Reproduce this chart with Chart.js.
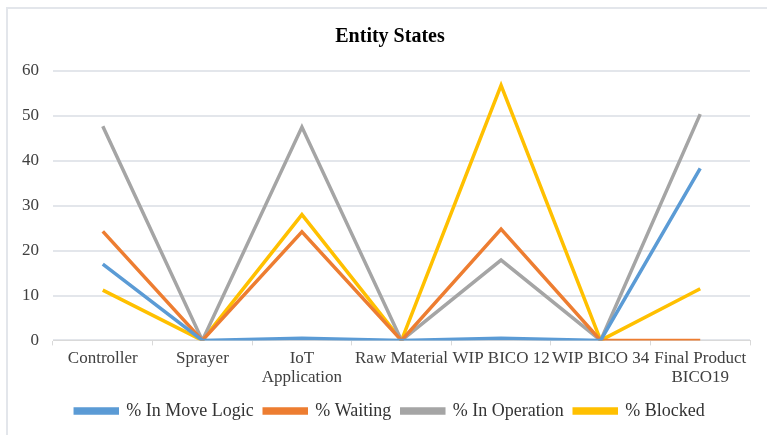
<!DOCTYPE html>
<html>
<head>
<meta charset="utf-8">
<script src="https://cdn.jsdelivr.net/npm/chart.js@4/dist/chart.umd.min.js"></script>
<style>
  html, body { margin: 0; padding: 0; background: #fff; }
  #wrap { position: relative; width: 767px; height: 437px; }
  #frame { position: absolute; left: 6px; top: 7px; right: 0; bottom: 2px;
           border-top: 2px solid #e3e6eb; border-left: 2px solid #e3e6eb; }
  canvas { position: absolute; left: 0; top: 0; }
</style>
</head>
<body>
<div id="wrap">
  <div id="frame"></div>
  <canvas id="grafico" width="767" height="437"></canvas>
</div>
<script>
// categorias del eje x
const categories = ['Controller', 'Sprayer', ['IoT', 'Application'], 'Raw Material', 'WIP BICO 12', 'WIP BICO 34', ['Final Product', 'BICO19']]
// valores (%)
const moveLogic = [17.0, 0, 0.5, 0, 0.5, 0, 38.3]
const waiting = [24.3, 0, 24.2, 0, 24.8, 0, 0]
const inOperation = [47.7, 0, 47.5, 0, 17.9, 0, 50.4]
const blocked = [11.2, 0, 28.0, 0, 56.8, 0, 11.5]
const yTicks = [0, 10, 20, 30, 40, 50, 60]

const serif = '"Liberation Serif", "Times New Roman", serif'

function serie(label, data, color) {
  return {
    label: label,
    data: data,
    borderColor: color,
    backgroundColor: color,
    borderWidth: 3.5,
    pointRadius: 0,
    tension: 0
  }
}

// titulo y leyenda un poco a la derecha, como en el original
const desplazar = {
  id: 'desplazar',
  afterLayout(chart) {
    const dx = 11
    chart.titleBlock.left += dx
    chart.titleBlock.right += dx
    chart.legend.left += dx
    chart.legend.right += dx
  }
}

var ctx = document.getElementById('grafico').getContext('2d')
var chart = new Chart(ctx, {
  type: 'line',
  data: {
    labels: categories,
    datasets: [
      serie('% In Move Logic', moveLogic, '#5B9BD5'),
      serie('% Waiting', waiting, '#ED7D31'),
      serie('% In Operation', inOperation, '#A5A5A5'),
      serie('% Blocked', blocked, '#FFC000')
    ]
  },
  plugins: [desplazar],
  options: {
    responsive: false,
    animation: false,
    layout: { padding: { left: 8, right: 17, top: 16, bottom: 7 } },
    plugins: {
      title: {
        display: true,
        text: 'Entity States',
        color: '#000',
        font: { family: serif, size: 20, weight: 'bold' },
        padding: { top: 9, bottom: 22 }
      },
      legend: {
        position: 'bottom',
        labels: {
          color: '#333',
          font: { family: serif, size: 18 },
          boxWidth: 42,
          boxHeight: 4,
          padding: 10.5
        }
      },
      tooltip: { enabled: false }
    },
    scales: {
      x: {
        offset: true,
        grid: { offset: true, drawOnChartArea: false, drawTicks: true, tickLength: 5, color: '#d9d9d9' },
        border: { color: '#d9d9d9', width: 1 },
        ticks: { color: '#404040', font: { family: serif, size: 17, lineHeight: 1.12 }, maxRotation: 0, autoSkip: false, padding: 4 }
      },
      y: {
        min: 0,
        max: 60,
        afterBuildTicks: (axis) => { axis.ticks = yTicks.map(v => ({ value: v })) },
        grid: { color: '#e3e6eb', lineWidth: 2, drawTicks: false },
        border: { display: false },
        ticks: { color: '#404040', font: { family: serif, size: 17 }, padding: 14 }
      }
    }
  }
})
</script>
</body>
</html>
